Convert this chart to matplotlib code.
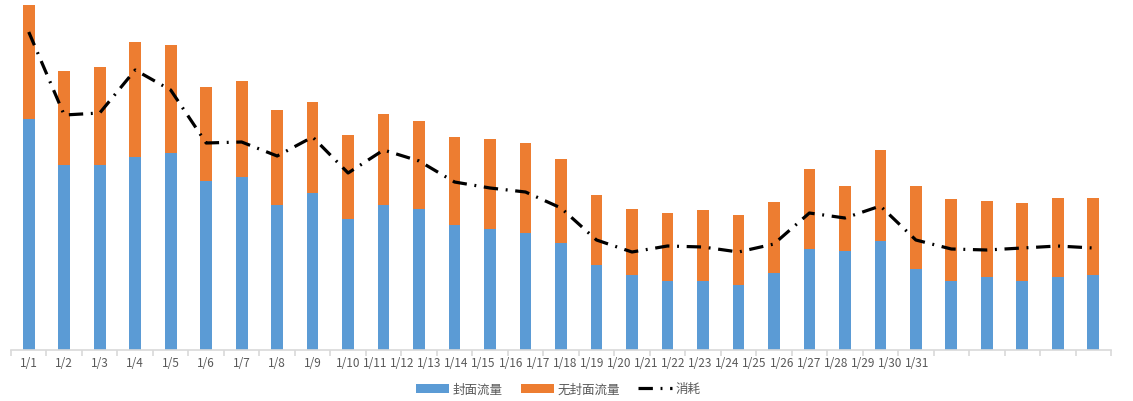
import numpy as np
import matplotlib.pyplot as plt

plt.rcParams['font.family'] = ['Noto Sans CJK SC', 'DejaVu Sans']

dates = ['1/%d' % d for d in range(1, 32)]
cover = [231, 185, 185, 193, 197, 169, 173, 145, 157, 131, 145, 141, 125, 121, 117, 107,
         85, 75, 69, 69, 65, 77, 101, 99, 109, 81, 69, 73, 69, 73, 75]
no_cover = [114, 94, 98, 115, 108, 94, 96, 95, 91, 84, 91, 88, 88, 90, 90, 84,
            70, 66, 68, 71, 70, 71, 80, 65, 91, 83, 82, 76, 78, 79, 77]
cost = [318, 235, 237, 280, 260, 207, 208, 194, 213, 177, 200, 189, 168, 162, 158, 142,
        110, 98, 104, 103, 98, 106, 137, 132, 144, 110, 101, 100, 102, 104, 102]

x = np.arange(len(dates))

fig = plt.figure(figsize=(11.33, 4.02), dpi=100)
ax = fig.add_axes([11 / 1133, 51 / 402, 1100 / 1133, 345 / 402])

b1 = ax.bar(x, cover, width=0.33, color='#5B9BD5', label='封面流量')
b2 = ax.bar(x, no_cover, width=0.33, bottom=cover, color='#ED7D31', label='无封面流量')
ln, = ax.plot(x, cost, color='black', lw=2.3, dashes=[4.5, 2.4, 0.6, 2.4], label='消耗')

ax.set_xlim(-0.5, len(dates) - 0.5)
ax.set_ylim(0, 345)
ax.set_yticks([])
for s in ['top', 'right', 'left']:
    ax.spines[s].set_visible(False)
ax.spines['bottom'].set_color('#D9D9D9')
ax.spines['bottom'].set_linewidth(1.2)

# tick marks on category boundaries, labels crowded after 1/10 like the original
ax.set_xticks(np.arange(len(dates) + 1) - 0.5, [''] * (len(dates) + 1))
ax.tick_params(axis='x', which='major', length=4, color='#D9D9D9', width=1.2)
label_pos = [i if i <= 9 else 9 + (i - 9) * 27.1 / 35.48 for i in range(len(dates))]
ax.set_xticks(label_pos, dates, minor=True)
ax.tick_params(axis='x', which='minor', length=0, pad=4, labelsize=8.5, labelcolor='#595959')

fig.legend([b1, b2, ln], ['封面流量', '无封面流量', '消耗'], loc='center',
           bbox_to_anchor=(558 / 1133, 1 - 390 / 402), ncol=3, frameon=False,
           fontsize=9, handlelength=2.7, handletextpad=0.3, columnspacing=1.4,
           labelcolor='#595959')

fig.savefig('out.png', dpi=100)
